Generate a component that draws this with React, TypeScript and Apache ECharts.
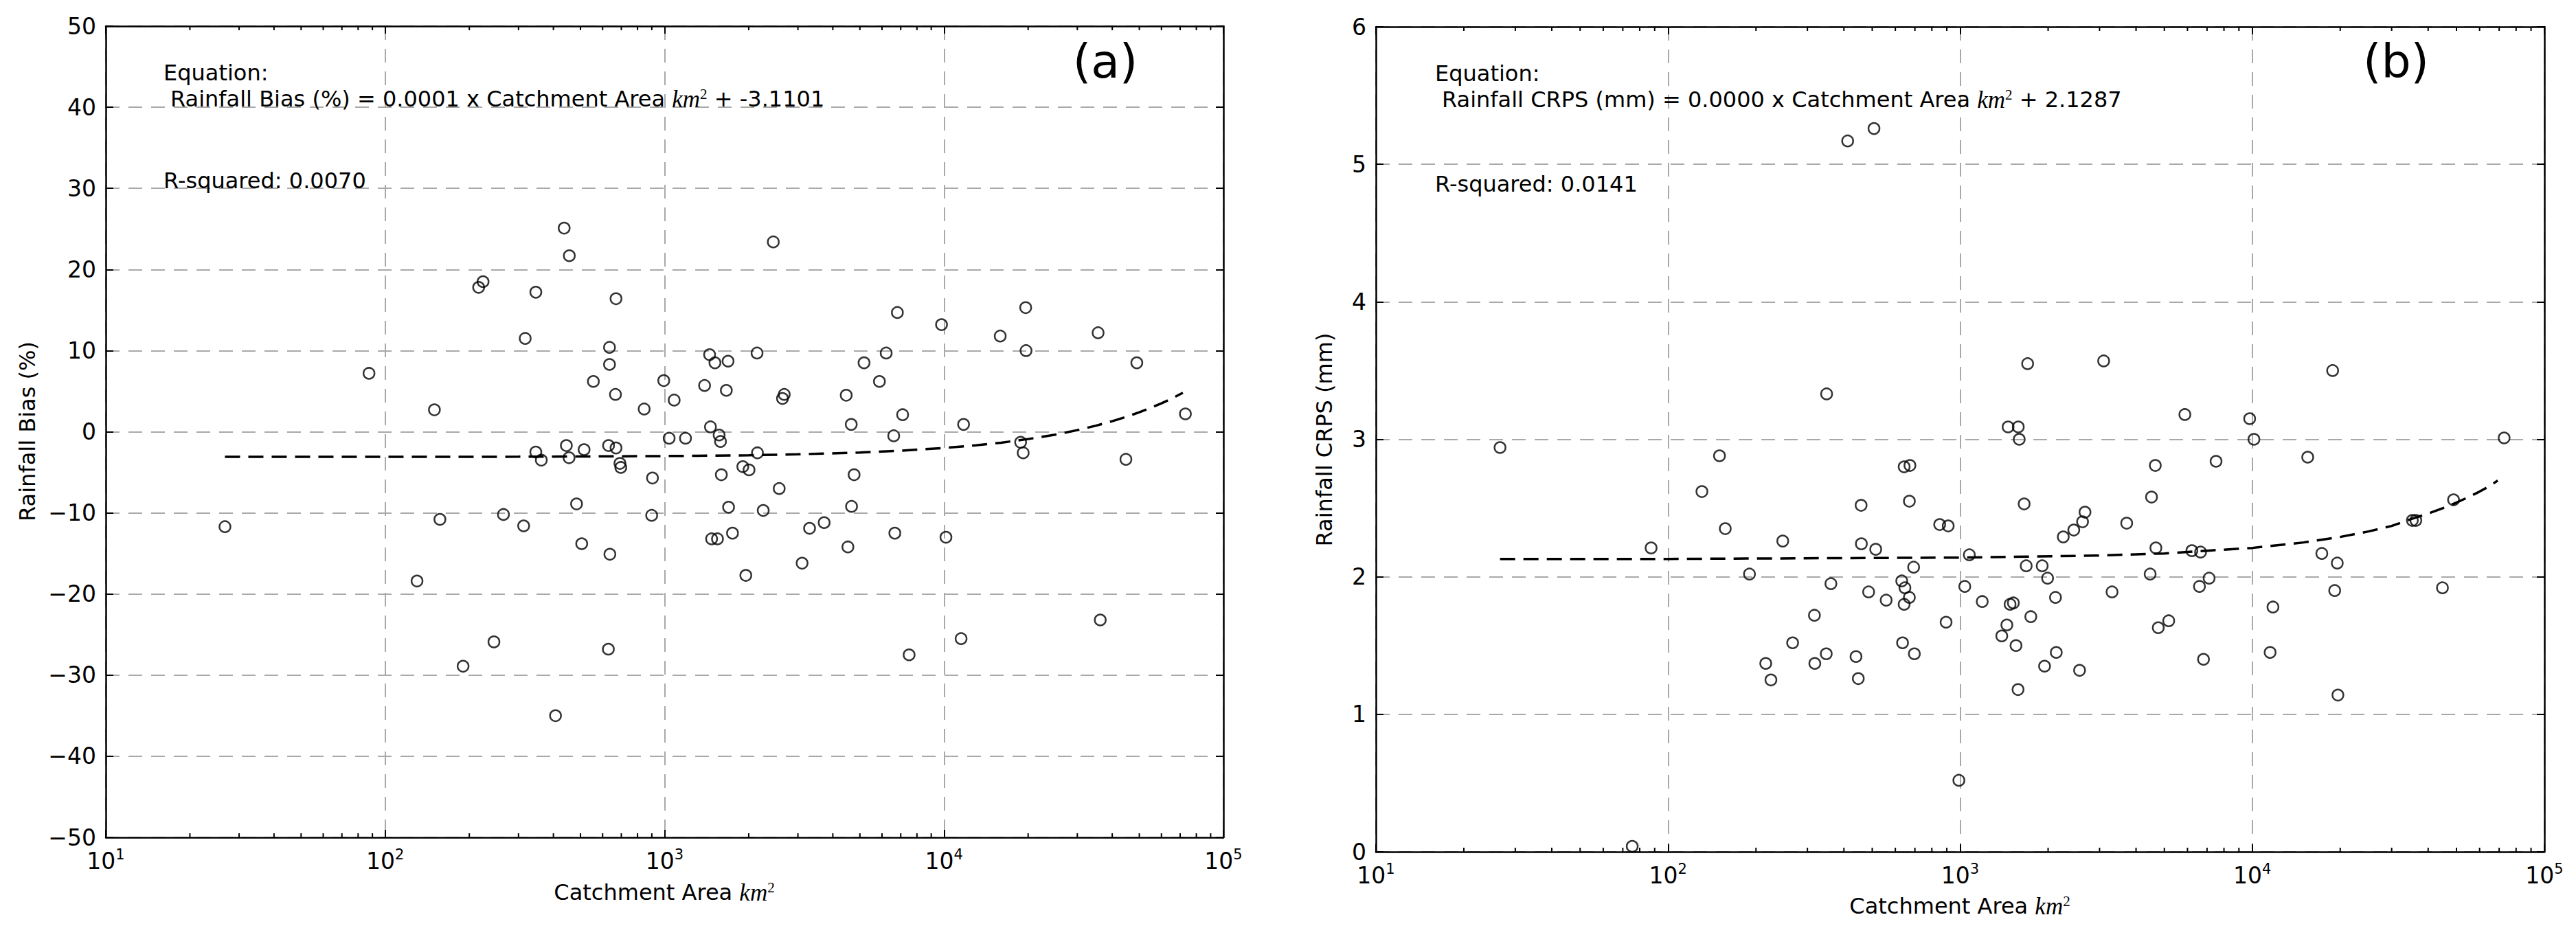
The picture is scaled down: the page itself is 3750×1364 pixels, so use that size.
import React, { useEffect, useRef } from "react";
import * as echarts from "echarts";

// ---------- Panel (a): Rainfall Bias (%) vs Catchment Area ----------
const biasArea = [
  26.7, 87.5, 130, 150, 157, 190, 216, 224, 245, 265, 313, 317, 346, 346, 362, 407, 437, 445, 455, 456,
  484, 505, 515, 556, 630, 635, 635, 637, 629, 667, 670, 670, 692, 697, 845, 899, 905, 993, 1038, 1082,
  1188, 1390, 1449, 1459, 1473, 1514, 1546, 1567, 1585, 1596, 1663, 1687, 1694, 1750, 1905, 1953, 2005, 2142, 2149, 2254,
  2449, 2571, 2642, 2680, 3105, 3302, 3724, 4467, 4529, 4655, 4667, 4766, 5174, 5873, 6209, 6607, 6668, 6808, 7110, 7500,
  9797, 10160, 11510, 11750, 15890, 18800, 19200, 19600, 19660, 35600, 36240, 44770, 48980, 73100,
];
const biasValue = [
  -11.7, 7.2, -18.4, 2.7, -10.8, -28.9, 17.8, 18.5, -25.9, -10.2, -11.6, 11.5, 17.2, -2.5, -3.5, -35.0, 25.1, -1.7, -3.2, 21.7,
  -8.9, -13.8, -2.2, 6.2, -1.7, 10.4, 8.3, -15.1, -26.8, 4.6, 16.4, -2.0, -3.9, -4.4, 2.8, -10.3, -5.7, 6.3, -0.8, 3.9,
  -0.8, 5.7, 9.5, 0.6, -13.2, 8.5, -13.2, -0.4, -1.2, -5.3, 5.1, 8.7, -9.3, -12.5, -4.3, -17.7, -4.7, 9.7, -2.6, -9.7,
  23.4, -7.0, 4.1, 4.6, -16.2, -11.9, -11.2, 4.5, -14.2, 0.9, -9.2, -5.3, 8.5, 6.2, 9.7, -0.5, -12.5, 14.7, 2.1, -27.5,
  13.2, -13.0, -25.5, 0.9, 11.8, -1.3, -2.6, 15.3, 10.0, 12.2, -23.2, -3.4, 8.5, 2.2,
];
// dashed fitted curve
const biasTrendArea = [26.7, 100, 300, 1000, 2000, 3000, 5000, 7000, 10000, 13000, 16000, 20000, 25000, 30000, 35000, 40000, 45000, 50000, 55000, 60000, 65000, 71600];
const biasTrendValue = [-3.1, -3.1, -3.08, -3.0, -2.9, -2.78, -2.56, -2.34, -2.0, -1.68, -1.35, -0.9, -0.36, 0.2, 0.75, 1.3, 1.85, 2.4, 2.95, 3.5, 4.05, 4.8];

// ---------- Panel (b): Rainfall CRPS (mm) vs Catchment Area ----------
const crpsArea = [
  26.6, 75.4, 87.5, 130.6, 150, 157, 190, 216, 225, 247, 267, 317, 318, 348, 349, 361, 412, 440, 448, 458,
  459, 486, 507, 514, 558, 631, 635, 643, 643, 647, 670, 670, 673, 693, 697, 851, 895, 910, 990, 1037,
  1075, 1190, 1388, 1445, 1459, 1482, 1521, 1553, 1578, 1581, 1593, 1656, 1683, 1702, 1745, 1909, 1945, 1992, 2120, 2133,
  2254, 2449, 2563, 2624, 2675, 3099, 3311, 3716, 4470, 4519, 4656, 4677, 4766, 5175, 5878, 6212, 6594, 6652, 6808, 7115,
  7516, 9795, 10130, 11510, 11770, 15480, 17300, 18840, 19150, 19540, 19640, 35320, 36300, 44770, 48860, 72800,
];
const crpsValue = [
  2.94, 0.04, 2.21, 2.62, 2.88, 2.35, 2.02, 1.37, 1.25, 2.26, 1.52, 1.72, 1.37, 1.44, 3.33, 1.95, 5.17, 1.42, 1.26, 2.52,
  2.24, 1.89, 5.26, 2.2, 1.83, 1.97, 1.52, 2.8, 1.8, 1.92, 2.55, 1.85, 2.81, 2.07, 1.44, 2.38, 1.67, 2.37, 0.52, 1.93,
  2.16, 1.82, 1.57, 1.65, 3.09, 1.8, 1.81, 1.5, 1.18, 3.09, 3.0, 2.53, 2.08, 3.55, 1.71, 2.08, 1.35, 1.99, 1.85, 1.45,
  2.29, 2.34, 1.32, 2.4, 2.47, 3.57, 1.89, 2.39, 2.02, 2.58, 2.81, 2.21, 1.63, 1.68, 3.18, 2.19, 1.93, 2.18, 1.4, 1.99,
  2.84, 3.15, 3.0, 1.45, 1.78, 2.87, 2.17, 3.5, 1.9, 2.1, 1.14, 2.41, 2.41, 1.92, 2.56, 3.01,
];
const crpsTrendArea = [26.6, 100, 1000, 3000, 5000, 7000, 10000, 15000, 20000, 25000, 30000, 35000, 40000, 45000, 50000, 55000, 60000, 65000, 69200];
const crpsTrendValue = [2.13, 2.13, 2.14, 2.155, 2.17, 2.19, 2.21, 2.25, 2.29, 2.33, 2.37, 2.42, 2.46, 2.5, 2.54, 2.58, 2.62, 2.66, 2.7];

// axis tick settings
const xLogMin = 10;
const xLogMax = 100000;
const minorMultipliers = [2, 3, 4, 5, 6, 7, 8, 9];
const minorDecades = [10, 100, 1000, 10000];
const biasMin = -50, biasMax = 50, biasStep = 10;
const crpsMin = 0, crpsMax = 6, crpsStep = 1;

const FONT = "DejaVu Sans";
const MATH = "Liberation Serif";

function zip(a: number[], b: number[]) {
  return a.map((v, i) => [v, b[i]]);
}

const minorTickValues: number[][] = [];
minorDecades.forEach((d) => minorMultipliers.forEach((m) => minorTickValues.push([m * d])));

function makeX(grid: number, pos: "bottom" | "top") {
  const main = pos === "bottom";
  return {
    type: "log",
    logBase: 10,
    gridIndex: grid,
    position: pos,
    min: xLogMin,
    max: xLogMax,
    splitNumber: 4,
    axisLine: { show: true, onZero: false, lineStyle: { color: "#000", width: 2.5 } },
    axisTick: { show: true, inside: true, length: 11, lineStyle: { color: "#000", width: 2 } },
    axisLabel: main
      ? {
          show: true,
          margin: 14,
          color: "#000",
          fontFamily: FONT,
          formatter: (v: number) => `{b|10}{s|${Math.round(Math.log10(v))}}`,
          rich: {
            b: { fontSize: 33, fontFamily: FONT, color: "#000", lineHeight: 40 },
            s: { fontSize: 21, fontFamily: FONT, color: "#000", verticalAlign: "top", lineHeight: 22 },
          },
        }
      : { show: false },
    splitLine: main
      ? { show: true, lineStyle: { color: "#a9a9a9", width: 2, type: [20, 13] } }
      : { show: false },
  };
}

function makeY(grid: number, pos: "left" | "right", min: number, max: number, step: number) {
  const main = pos === "left";
  return {
    type: "value",
    gridIndex: grid,
    position: pos,
    min,
    max,
    interval: step,
    axisLine: { show: true, onZero: false, lineStyle: { color: "#000", width: 2.5 } },
    axisTick: { show: true, inside: true, length: 11, lineStyle: { color: "#000", width: 2 } },
    axisLabel: main
      ? {
          show: true,
          margin: 14,
          color: "#000",
          fontSize: 33,
          fontFamily: FONT,
          formatter: (v: number) => String(v).replace("-", "\u2212"),
        }
      : { show: false },
    splitLine: main
      ? { show: true, lineStyle: { color: "#a9a9a9", width: 2, type: [20, 13] } }
      : { show: false },
  };
}

function minorTickSeries(xi: number, yi: number, yMin: number, yMax: number) {
  return {
    type: "custom",
    xAxisIndex: xi,
    yAxisIndex: yi,
    silent: true,
    clip: false,
    data: minorTickValues.map((r) => [r[0], yMin]),
    encode: { x: 0, y: 1 },
    renderItem: (_p: any, api: any) => {
      const v = api.value(0);
      const b = api.coord([v, yMin]);
      const t = api.coord([v, yMax]);
      const st = { stroke: "#000", lineWidth: 2 };
      return {
        type: "group",
        children: [
          { type: "line", shape: { x1: b[0], y1: b[1], x2: b[0], y2: b[1] - 6 }, style: st },
          { type: "line", shape: { x1: t[0], y1: t[1], x2: t[0], y2: t[1] + 6 }, style: st },
        ],
      };
    },
  };
}

function scatterSeries(xi: number, yi: number, data: number[][]) {
  return {
    type: "scatter",
    xAxisIndex: xi,
    yAxisIndex: yi,
    symbol: "circle",
    symbolSize: 16,
    data,
    itemStyle: { color: "rgba(0,0,0,0)", borderColor: "#000", borderWidth: 2.5 },
    z: 3,
  };
}

function trendSeries(xi: number, yi: number, data: number[][]) {
  return {
    type: "line",
    xAxisIndex: xi,
    yAxisIndex: yi,
    data,
    showSymbol: false,
    symbol: "none",
    smooth: false,
    lineStyle: { color: "#000", width: 3.5, type: [22, 12] },
    z: 2,
  };
}

const mathRich = {
  i: { fontFamily: MATH, fontStyle: "italic", fontSize: 35, fill: "#000", color: "#000" },
  s: { fontFamily: MATH, fontSize: 21, fill: "#000", color: "#000", verticalAlign: "top", lineHeight: 22 },
};

function txt(x: number, y: number, text: string, size = 32, rotation = 0, align = "left") {
  return {
    type: "text",
    x,
    y,
    rotation,
    style: {
      text,
      fill: "#000",
      fontSize: size,
      fontFamily: FONT,
      align,
      verticalAlign: "middle",
      textAlign: align,
      textVerticalAlign: "middle",
      rich: mathRich,
    },
    z: 10,
  };
}

export default function App() {
  const ref = useRef<HTMLDivElement>(null);
  useEffect(() => {
    if (!ref.current) return;
    const chart = echarts.init(ref.current, null, { renderer: "svg" });
    chart.setOption({
      animation: false,
      backgroundColor: "#fff",
      textStyle: { fontFamily: FONT },
      grid: [
        { left: 154, top: 38, width: 1627, height: 1181, containLabel: false },
        { left: 2003, top: 39, width: 1701, height: 1201, containLabel: false },
      ],
      xAxis: [makeX(0, "bottom"), makeX(0, "top"), makeX(1, "bottom"), makeX(1, "top")],
      yAxis: [
        makeY(0, "left", biasMin, biasMax, biasStep),
        makeY(0, "right", biasMin, biasMax, biasStep),
        makeY(1, "left", crpsMin, crpsMax, crpsStep),
        makeY(1, "right", crpsMin, crpsMax, crpsStep),
      ],
      series: [
        minorTickSeries(0, 0, biasMin, biasMax),
        trendSeries(0, 0, zip(biasTrendArea, biasTrendValue)),
        scatterSeries(0, 0, zip(biasArea, biasValue)),
        minorTickSeries(2, 2, crpsMin, crpsMax),
        trendSeries(2, 2, zip(crpsTrendArea, crpsTrendValue)),
        scatterSeries(2, 2, zip(crpsArea, crpsValue)),
      ],
      graphic: [
        txt(238, 106, "Equation:"),
        txt(248, 144, "Rainfall Bias (%) = 0.0001 x Catchment Area {i|km}{s|2} + -3.1101"),
        txt(238, 263, "R-squared: 0.0070"),
        txt(1609, 89, "(a)", 68, 0, "center"),
        txt(967, 1299, "Catchment Area {i|km}{s|2}", 32, 0, "center"),
        txt(40, 628, "Rainfall Bias (%)", 32, Math.PI / 2, "center"),
        txt(2089, 107, "Equation:"),
        txt(2099, 145, "Rainfall CRPS (mm) = 0.0000 x Catchment Area {i|km}{s|2} + 2.1287"),
        txt(2089, 268, "R-squared: 0.0141"),
        txt(3488, 89, "(b)", 68, 0, "center"),
        txt(2853, 1319, "Catchment Area {i|km}{s|2}", 32, 0, "center"),
        txt(1928, 640, "Rainfall CRPS (mm)", 32, Math.PI / 2, "center"),
      ],
    });
    return () => chart.dispose();
  }, []);
  return (
    <div
      ref={ref}
      style={{ position: "absolute", left: 0, top: 0, width: 3750, height: 1364, background: "#fff" }}
    />
  );
}
